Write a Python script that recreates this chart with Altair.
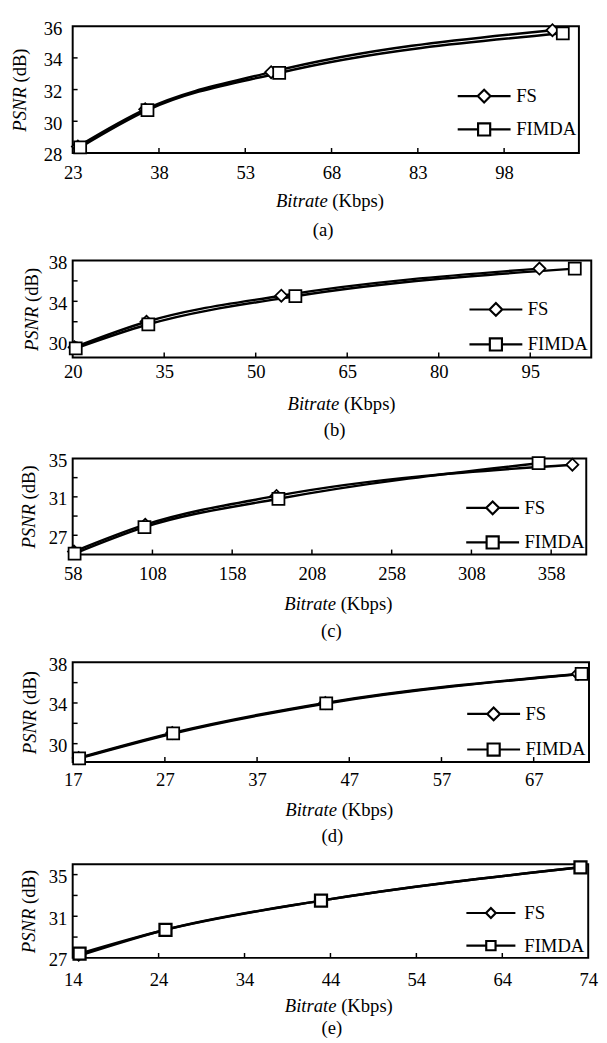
import altair as alt
import pandas as pd

SERIES = ["FS", "FIMDA"]
FONT = "Liberation Serif"
FSZ = 19

# ---------------- data ----------------
# (a)
A_FS_X = [23.9, 35.6, 57.5, 106.4]
A_FS_Y = [28.4, 30.75, 33.1, 35.75]
A_FI_X = [24.3, 36.0, 58.9, 108.2]
A_FI_Y = [28.35, 30.7, 33.05, 35.55]
A_X_DOMAIN = [23, 111]
A_Y_DOMAIN = [28, 36]
A_X_TICKS = [23, 38, 53, 68, 83, 98]
A_Y_LABELS = [28, 30, 32, 34, 36]
A_Y_TICKS = [30, 32, 34]

# (b)
B_FS_X = [20.3, 32.1, 54.2, 96.5]
B_FS_Y = [29.5, 32.0, 34.55, 37.2]
B_FI_X = [20.5, 32.4, 56.5, 102.3]
B_FI_Y = [29.4, 31.75, 34.5, 37.2]
B_X_DOMAIN = [20, 105]
B_Y_DOMAIN = [28.5, 38]
B_X_TICKS = [20, 35, 50, 65, 80, 95]
B_Y_LABELS = [30, 34, 38]
B_Y_TICKS = [30, 32, 34, 36]

# (c)
C_FS_X = [58.8, 103.5, 185.8, 371.3]
C_FS_Y = [25.3, 28.1, 31.1, 34.35]
C_FI_X = [59.2, 103.0, 187.0, 350.1]
C_FI_Y = [25.1, 27.85, 30.8, 34.5]
C_X_DOMAIN = [58, 380]
C_Y_DOMAIN = [25, 35]
C_X_TICKS = [58, 108, 158, 208, 258, 308, 358]
C_Y_LABELS = [27, 31, 35]
C_Y_TICKS = [27, 29, 31, 33]

# (d)
D_FS_X = [17.65, 27.8, 44.4, 71.8]
D_FS_Y = [28.6, 31.05, 34.0, 36.85]
D_FI_X = [17.7, 27.9, 44.5, 72.2]
D_FI_Y = [28.55, 31.0, 33.95, 36.85]
D_X_DOMAIN = [17, 73]
D_Y_DOMAIN = [28.2, 38]
D_X_TICKS = [17, 27, 37, 47, 57, 67]
D_Y_LABELS = [30, 34, 38]
D_Y_TICKS = [30, 32, 34, 36]

# (e)
E_FS_X = [14.7, 24.8, 42.9, 73.1]
E_FS_Y = [27.2, 29.7, 32.5, 35.7]
E_FI_X = [14.8, 24.8, 42.9, 73.1]
E_FI_Y = [27.4, 29.7, 32.5, 35.7]
E_X_DOMAIN = [14, 74]
E_Y_DOMAIN = [27, 36]
E_X_TICKS = [14, 24, 34, 44, 54, 64, 74]
E_Y_LABELS = [27, 31, 35]
E_Y_TICKS = [29, 31, 33, 35]

CAPTIONS = ["(a)", "(b)", "(c)", "(d)", "(e)"]

# ---------------- layout ----------------
LAYOUT = [
    dict(W=516.5, H=129.3, L=72.5, xlp=10.9, ylp=11, xt=49.4, cap=78.8, g=7,
         legX=410.3, legY=61.8, rowPad=11, lo=23.2, lsize=169, leglen=4.15, msize=[150, 150], msw=1.8),
    dict(W=529.1, H=99, L=60.7, xlp=5.9, ylp=6, xt=47.5, cap=74, g=17.2,
         legX=422.3, legY=40.5, rowPad=12.7, lo=23, lsize=169, leglen=4.15, msize=[150, 150], msw=1.8),
    dict(W=524, H=98, L=64, xlp=10.2, ylp=6, xt=51, cap=78.2, g=17,
         legX=419, legY=40.9, rowPad=12.3, lo=23, lsize=169, leglen=4.15, msize=[150, 150], msw=1.8),
    dict(W=526.8, H=101.7, L=63, xlp=9.5, ylp=6, xt=49.3, cap=76.1, g=18.8,
         legX=420, legY=43.2, rowPad=13.3, lo=23, lsize=169, leglen=4.15, msize=[150, 150], msw=1.8),
    dict(W=526, H=95.6, L=63.5, xlp=13.5, ylp=6, xt=49.5, cap=71.5, g=15.6,
         legX=417.2, legY=40.3, rowPad=13.3, lo=24.6, lsize=100, leglen=5.0, msize=[90, 150], msw=2.3),
]

ONE = pd.DataFrame({"k": [0]})


def txt(text, x, y, **kw):
    return alt.Chart(ONE).mark_text(
        text=text, font=FONT, fontSize=FSZ, color="black", baseline="middle", **kw
    ).encode(x=alt.value(x), y=alt.value(y))


def make_panel(cfg, fs_x, fs_y, fi_x, fi_y, x_dom, y_dom, x_ticks, y_labels, y_ticks, caption):
    W, H, L = cfg["W"], cfg["H"], cfg["L"]
    df = pd.DataFrame({
        "bitrate": fs_x + fi_x,
        "psnr": fs_y + fi_y,
        "series": ["FS"] * len(fs_x) + ["FIMDA"] * len(fi_x),
    })
    xs = alt.Scale(domain=x_dom, nice=False, zero=False)
    ys = alt.Scale(domain=y_dom, nice=False, zero=False)
    xaxis = alt.Axis(values=x_ticks, title=None, ticks=False, tickSize=0, domain=False, grid=False,
                     labelFont=FONT, labelFontSize=FSZ, labelColor="black", labelPadding=cfg["xlp"],
                     labelFlush=False, labelOverlap=False, format="d", labelAngle=0)
    yaxis = alt.Axis(values=y_labels, title=None, ticks=False, tickSize=0, domain=False, grid=False,
                     labelFont=FONT, labelFontSize=FSZ, labelColor="black", labelPadding=cfg["ylp"],
                     labelOffset=2, labelOverlap=False, format="d")
    X = alt.X("bitrate:Q", scale=xs, axis=xaxis)
    Y = alt.Y("psnr:Q", scale=ys, axis=yaxis)
    base = alt.Chart(df)

    lines = base.mark_line(interpolate="monotone", color="black", strokeWidth=2.5).encode(
        x=X, y=Y, detail="series:N")

    points = base.mark_point(filled=True, fill="white", stroke="black",
                             strokeWidth=cfg["msw"], opacity=1).encode(
        x=X, y=Y,
        shape=alt.Shape("series:N", scale=alt.Scale(domain=SERIES, range=["diamond", "square"]), legend=None),
        size=alt.Size("series:N", scale=alt.Scale(domain=SERIES, range=cfg["msize"]), legend=None),
    )

    # legend only (no drawn marks): symbols are a line with the marker in the middle
    Lh = cfg["leglen"]
    p_fs = f"M-{Lh},0H-1M1,0H{Lh}M-1,0L0,-1L1,0L0,1Z"
    p_fi = f"M-{Lh},0H-0.95M0.95,0H{Lh}M-0.95,-0.95H0.95V0.95H-0.95Z"
    legend_layer = base.transform_filter("false").mark_point(
        filled=False, color="black", strokeWidth=2, size=cfg["lsize"], opacity=1
    ).encode(
        x=X, y=Y,
        shape=alt.Shape("series:N", scale=alt.Scale(domain=SERIES, range=[p_fs, p_fi]),
                        legend=alt.Legend(orient="none", legendX=cfg["legX"], legendY=cfg["legY"],
                                          title=None, labelFont=FONT, labelFontSize=FSZ,
                                          labelColor="black", symbolSize=cfg["lsize"],
                                          symbolStrokeWidth=2.2, symbolStrokeColor="black",
                                          symbolOpacity=1,
                                          labelOffset=cfg["lo"], rowPadding=cfg["rowPad"],
                                          padding=0, direction="vertical")),
    )

    inner_x = [v for v in x_ticks if x_dom[0] < v < x_dom[1]]
    xt = alt.Chart(pd.DataFrame({"bitrate": inner_x})).mark_rule(color="black", strokeWidth=1.5).encode(
        x=X, y=alt.value(H), y2=alt.value(H - 5))
    yt = alt.Chart(pd.DataFrame({"psnr": y_ticks})).mark_rule(color="black", strokeWidth=1.5).encode(
        y=Y, x=alt.value(0), x2=alt.value(5))

    # y title: italic PSNR + upright (dB), rotated
    ytx = 19.25 - L
    cy = H / 2 + 0.5
    a1 = cy - 2.9
    a2 = a1 - 0.25 * FSZ
    yt1 = txt("PSNR", ytx, a1, angle=270, align="right", fontStyle="italic")
    yt2 = txt("(dB)", ytx, a2, angle=270, align="left")

    # x title: italic Bitrate + upright (Kbps)
    cx = 335 - L
    b1 = cx - 2.35
    b2 = b1 + 0.25 * FSZ
    xt1 = txt("Bitrate", b1, H + cfg["xt"], align="right", fontStyle="italic")
    xt2 = txt("(Kbps)", b2, H + cfg["xt"], align="left")

    cap = txt(caption, 328 - L, H + cfg["cap"], align="center")

    spacer = alt.Chart(ONE).mark_rule(opacity=0).encode(
        x=alt.value(0), y=alt.value(-cfg["g"]), y2=alt.value(0))

    return alt.layer(lines, points, legend_layer, xt, yt, yt1, yt2, xt1, xt2, cap, spacer).resolve_scale(
        shape="independent", size="independent").properties(width=W, height=H)


panels = [
    make_panel(LAYOUT[0], A_FS_X, A_FS_Y, A_FI_X, A_FI_Y, A_X_DOMAIN, A_Y_DOMAIN, A_X_TICKS, A_Y_LABELS, A_Y_TICKS, CAPTIONS[0]),
    make_panel(LAYOUT[1], B_FS_X, B_FS_Y, B_FI_X, B_FI_Y, B_X_DOMAIN, B_Y_DOMAIN, B_X_TICKS, B_Y_LABELS, B_Y_TICKS, CAPTIONS[1]),
    make_panel(LAYOUT[2], C_FS_X, C_FS_Y, C_FI_X, C_FI_Y, C_X_DOMAIN, C_Y_DOMAIN, C_X_TICKS, C_Y_LABELS, C_Y_TICKS, CAPTIONS[2]),
    make_panel(LAYOUT[3], D_FS_X, D_FS_Y, D_FI_X, D_FI_Y, D_X_DOMAIN, D_Y_DOMAIN, D_X_TICKS, D_Y_LABELS, D_Y_TICKS, CAPTIONS[3]),
    make_panel(LAYOUT[4], E_FS_X, E_FS_Y, E_FI_X, E_FI_Y, E_X_DOMAIN, E_Y_DOMAIN, E_X_TICKS, E_Y_LABELS, E_Y_TICKS, CAPTIONS[4]),
]

chart = alt.vconcat(*panels, spacing=0).resolve_scale(
    x="independent", y="independent", shape="independent", size="independent"
).resolve_legend(shape="independent", size="independent").properties(
    padding={"left": 2, "top": 0, "right": 0, "bottom": 0},
    background="white",
).configure_view(stroke="black", strokeWidth=2, fill="white")

chart.save("out.html", embed_options={"renderer": "svg", "actions": False})
